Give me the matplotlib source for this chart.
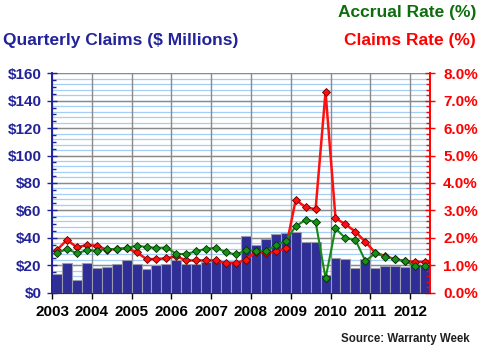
import numpy as np
import matplotlib
matplotlib.use("Agg")
import matplotlib.pyplot as plt
import matplotlib.transforms as mtransforms
from matplotlib.ticker import MultipleLocator, FuncFormatter

plt.rcParams['font.family'] = ['Liberation Sans', 'DejaVu Sans']
plt.rcParams['font.weight'] = 'bold'

# quarterly data, 2003 Q1 .. 2012 Q2
years = ['2003', '2004', '2005', '2006', '2007', '2008', '2009', '2010', '2011', '2012']
claims = [13.5, 21.5, 9.0, 21.5, 17.8, 18.9, 20.7, 23.7, 20.7, 17.2, 19.8, 20.7, 23.7,
          20.7, 20.8, 22.2, 23.0, 22.7, 23.1, 41.5, 34.7, 39.2, 42.5, 43.2, 43.8,
          36.6, 36.6, 12.5, 25.0, 24.2, 17.7, 24.2, 17.7, 19.1, 19.6, 18.9, 20.6, 20.0]
claims_rate = [1.55, 1.92, 1.65, 1.73, 1.71, 1.56, 1.59, 1.61, 1.47, 1.22, 1.22, 1.25, 1.32,
               1.17, 1.17, 1.17, 1.17, 1.07, 1.07, 1.20, 1.49, 1.43, 1.50, 1.61, 3.38,
               3.11, 3.04, 7.33, 2.71, 2.49, 2.22, 1.85, 1.45, 1.33, 1.21, 1.15, 1.12, 1.12]
accrual_rate = [1.43, 1.59, 1.43, 1.54, 1.53, 1.58, 1.59, 1.62, 1.71, 1.66, 1.63, 1.64, 1.41,
                1.40, 1.51, 1.59, 1.64, 1.46, 1.39, 1.54, 1.52, 1.51, 1.72, 1.88, 2.42,
                2.65, 2.58, 0.52, 2.34, 1.98, 1.92, 1.15, 1.43, 1.31, 1.22, 1.15, 0.96, 0.96]

navy = '#22229a'
W, H = 480, 348
fig = plt.figure(figsize=(W / 100, H / 100), dpi=100)
ax = fig.add_axes([52 / W, 55.5 / H, 378 / W, 219.2 / H])
ax2 = ax.twinx()

x = np.arange(len(claims)) + 0.5
ax.bar(x, claims, width=1.0, color='#2e2e96', edgecolor='#9a9ab0', linewidth=0.8, zorder=2)

# gridlines: light blue every 0.2 %, gray every 1 % (= $20)
for v in np.arange(0, 161, 4):
    ax.axhline(v, color='#a4cef6', linewidth=0.9, zorder=0)
for v in np.arange(0, 161, 20):
    ax.axhline(v, color='#8a8a8a', linewidth=1.0, zorder=1)
for v in range(0, 38, 4):
    ax.axvline(v, color='#8a8a8a', linewidth=1.0, zorder=1)

ax.set_xlim(0, 38)
ax.set_ylim(0, 160)
ax2.set_ylim(0, 8)

ax2.plot(x, claims_rate, color='#ff1010', linewidth=1.8, marker='D', markersize=4.3,
         markerfacecolor='#ff1010', markeredgecolor='#600000', markeredgewidth=0.6, zorder=3)
ax2.plot(x, accrual_rate, color='#168a16', linewidth=1.5, marker='D', markersize=4.3,
         markerfacecolor='#169016', markeredgecolor='#003000', markeredgewidth=0.6, zorder=4)

ax.set_xticks(range(0, 38, 4))
ax.set_xticklabels(years, fontsize=11, fontweight='bold')
offset = mtransforms.ScaledTranslation(4 / 100, 0, fig.dpi_scale_trans)
for lab in ax.get_xticklabels():
    lab.set_transform(lab.get_transform() + offset)
ax.tick_params(axis='x', direction='inout', length=8, width=1, pad=5, colors='black')

ax.yaxis.set_major_locator(MultipleLocator(20))
ax.yaxis.set_minor_locator(MultipleLocator(5))
ax.yaxis.set_major_formatter(FuncFormatter(lambda v, p: f'${v:.0f}'))
ax.tick_params(axis='y', which='major', direction='inout', length=7, width=1,
               colors=navy, labelsize=11, pad=4)
ax.tick_params(axis='y', which='minor', direction='in', length=3, width=1, colors=navy)

ax2.yaxis.set_major_locator(MultipleLocator(1))
ax2.yaxis.set_minor_locator(MultipleLocator(0.2))
ax2.yaxis.set_major_formatter(FuncFormatter(lambda v, p: f'{v:.1f}%'))
ax2.tick_params(axis='y', which='major', direction='inout', length=7, width=1,
                colors='#ff0000', labelsize=11, pad=6)
ax2.tick_params(axis='y', which='minor', direction='in', length=3, width=1, colors='#ff0000')
for lab in ax.get_yticklabels() + ax2.get_yticklabels():
    lab.set_fontweight('bold')

for a in (ax, ax2):
    a.spines['top'].set_visible(False)
    a.spines['left'].set_color(navy)
    a.spines['right'].set_color('#ff0000')
    a.spines['bottom'].set_color('#303030')
    a.spines['left'].set_linewidth(1.2)
    a.spines['right'].set_linewidth(1.2)

fig.text(3 / W, 1 - 40 / H, 'Quarterly Claims ($ Millions)', color=navy, fontsize=12.5,
         fontweight='bold', ha='left', va='center')
fig.text(476 / W, 1 - 12 / H, 'Accrual Rate (%)', color='#0c6e0c', fontsize=12.5,
         fontweight='bold', ha='right', va='center')
fig.text(476 / W, 1 - 40 / H, 'Claims Rate (%)', color='#ff0000', fontsize=12.5,
         fontweight='bold', ha='right', va='center')
fig.text(470 / W, 1 - 339 / H, 'Source: Warranty Week', color='#202020', fontsize=8.3,
         fontweight='bold', ha='right', va='center')

fig.savefig('out.png', dpi=100)
